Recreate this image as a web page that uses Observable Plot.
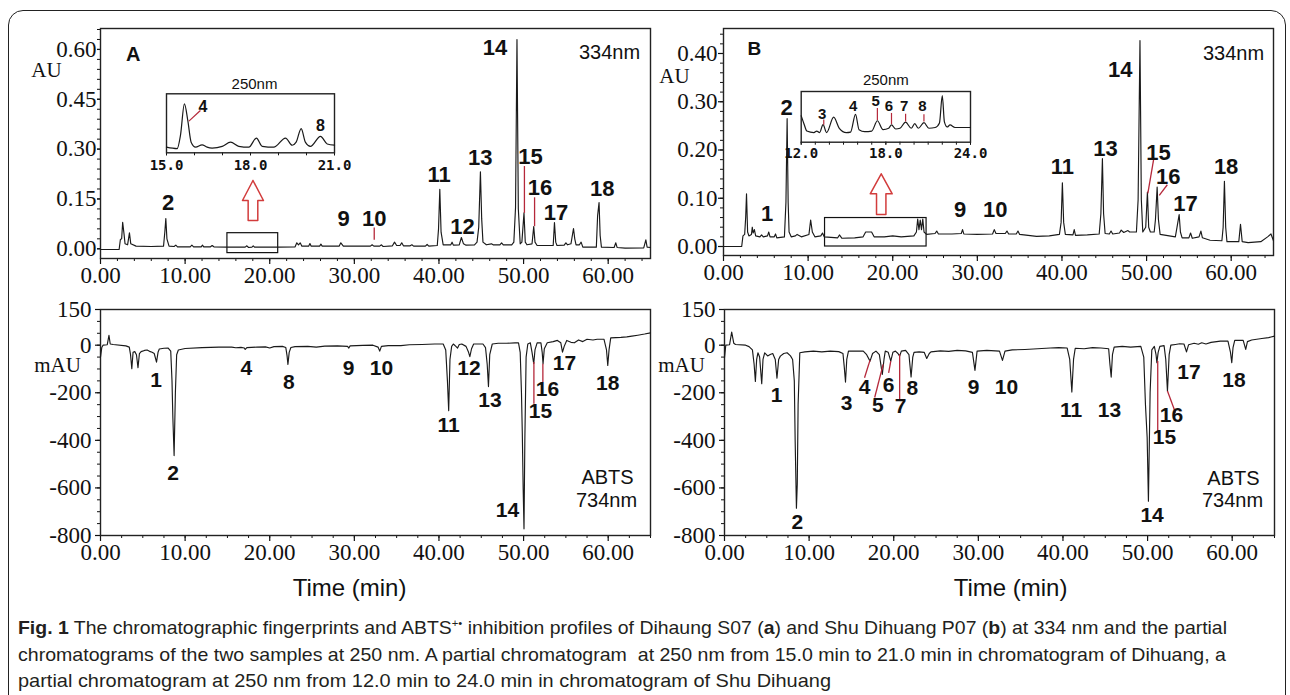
<!DOCTYPE html>
<html><head><meta charset="utf-8">
<script src="https://cdn.jsdelivr.net/npm/d3@7"></script>
<script src="https://cdn.jsdelivr.net/npm/@observablehq/plot@0.6"></script>
<style>
html,body{margin:0;padding:0;background:#fff;}
body{width:1290px;height:695px;overflow:hidden;position:relative;}
#box{position:absolute;left:8px;top:10px;width:1278px;height:740px;border:1.6px solid #222;border-radius:15px;box-sizing:border-box;}
.pl{position:absolute;}
.cap{position:absolute;left:18px;white-space:nowrap;font-family:"Liberation Sans Narrow","Liberation Sans",sans-serif;font-size:19px;line-height:22px;color:#231f20;transform-origin:0 50%;}
.cap sup{font-size:11px;line-height:0;vertical-align:7px;}
</style></head><body>
<div id="box"></div>
<div id="root"></div>
<div class="cap" id="c1" style="top:617px"><b>Fig. 1</b> The chromatographic fingerprints and ABTS<sup>+•</sup> inhibition profiles of Dihaung S07 (<b>a</b>) and Shu Dihuang P07 (<b>b</b>) at 334&nbsp;nm and the partial</div>
<div class="cap" id="c2" style="top:644px">chromatograms of the two samples at 250&nbsp;nm. A partial chromatogram &nbsp;at 250&nbsp;nm from 15.0&nbsp;min to 21.0&nbsp;min in chromatogram of Dihuang, a</div>
<div class="cap" id="c3" style="top:670px">partial chromatogram at 250&nbsp;nm from 12.0&nbsp;min to 24.0&nbsp;min in chromatogram of Shu Dihuang</div>
<script>
// ---------------- DATA ----------------
const xMajor = [0, 10, 20, 30, 40, 50, 60];
const aTopYTicks = [0, 0.15, 0.30, 0.45, 0.60];
const bTopYTicks = [0, 0.10, 0.20, 0.30, 0.40];
const botYTicks = [150, 0, -200, -400, -600, -800];

// Dihuang S07, 334 nm trace [time (min), AU]
const traceA334 = [
[0,-0.002],[2.2,-0.002],[2.35,0.028],[2.5,0.03],[2.62,0.08],[2.78,0.045],[2.9,0.015],[3.2,0.012],[3.42,0.048],[3.58,0.015],[4.2,0.008],[6,0.007],[7.45,0.008],[7.6,0.05],[7.72,0.091],[7.85,0.03],[8.1,0.008],[8.7,0.007],[8.9,0.011],[9.1,0.006],[10.6,0.006],[10.8,0.011],[11.0,0.006],[11.9,0.006],[12.05,0.011],[12.2,0.006],[13.0,0.006],[13.2,0.01],[13.4,0.006],[15,0.005],[17.1,0.005],[17.3,0.009],[17.5,0.004],[17.9,0.005],[18.05,0.009],[18.2,0.005],[21,0.005],[23.0,0.006],[23.2,0.018],[23.4,0.012],[23.6,0.018],[23.8,0.008],[24.6,0.008],[24.75,0.016],[24.9,0.008],[25.9,0.008],[26.05,0.014],[26.2,0.008],[28.2,0.008],[28.4,0.018],[28.7,0.008],[31.9,0.008],[32.1,0.012],[32.3,0.008],[33.0,0.008],[33.2,0.012],[33.4,0.007],[34.5,0.009],[34.75,0.02],[35.0,0.01],[35.4,0.01],[35.6,0.018],[35.8,0.009],[36.6,0.009],[36.8,0.012],[37.0,0.008],[38.4,0.008],[38.6,0.013],[38.8,0.008],[39.8,0.01],[39.95,0.06],[40.1,0.179],[40.25,0.05],[40.5,0.012],[41.4,0.012],[41.55,0.02],[41.7,0.011],[42.4,0.012],[42.65,0.034],[42.9,0.015],[43.2,0.011],[44.2,0.012],[44.5,0.02],[44.7,0.065],[44.9,0.232],[45.05,0.09],[45.2,0.02],[45.6,0.012],[46.2,0.015],[46.4,0.012],[47.2,0.012],[47.4,0.018],[47.6,0.012],[48.6,0.012],[48.85,0.02],[49.05,0.124],[49.22,0.63],[49.38,0.12],[49.6,0.015],[49.8,0.02],[50.05,0.108],[50.2,0.02],[50.4,0.012],[51.0,0.015],[51.2,0.067],[51.35,0.02],[51.6,0.01],[53.5,0.01],[53.65,0.079],[53.8,0.02],[53.95,0.01],[54.8,0.011],[55.0,0.018],[55.2,0.012],[55.6,0.015],[55.9,0.061],[56.05,0.03],[56.2,0.012],[56.6,0.012],[56.8,0.02],[57.0,0.005],[58.6,0.005],[58.75,0.1],[58.92,0.139],[59.05,0.04],[59.2,0.005],[60.7,0.004],[60.9,0.018],[61.05,0.004],[62,0.002],[64.2,0.003],[64.45,0.027],[64.6,0.005],[65,0.004]
];
// Shu Dihuang P07, 334 nm trace
const traceB334 = [
[0,0.0],[2.15,0.0],[2.3,0.022],[2.5,0.025],[2.62,0.06],[2.72,0.109],[2.85,0.03],[3.0,0.022],[3.3,0.025],[3.4,0.04],[3.5,0.028],[3.65,0.035],[3.8,0.022],[4.3,0.02],[4.5,0.024],[4.7,0.02],[5.2,0.022],[5.35,0.03],[5.5,0.02],[6.0,0.02],[6.15,0.026],[6.3,0.018],[7.2,0.02],[7.38,0.092],[7.52,0.265],[7.64,0.092],[7.75,0.03],[8.0,0.02],[8.5,0.022],[8.7,0.025],[9.2,0.02],[10.1,0.025],[10.3,0.055],[10.5,0.03],[10.8,0.02],[11.5,0.022],[11.7,0.028],[11.9,0.02],[13.5,0.018],[13.7,0.024],[14,0.017],[15.5,0.018],[16.5,0.02],[16.8,0.03],[17.5,0.03],[17.8,0.02],[19,0.02],[20,0.022],[21,0.02],[22.5,0.022],[22.8,0.03],[22.95,0.057],[23.1,0.035],[23.25,0.055],[23.4,0.035],[23.55,0.057],[23.7,0.03],[24.0,0.025],[25,0.027],[25.2,0.032],[25.4,0.026],[27,0.026],[28.1,0.027],[28.25,0.035],[28.4,0.026],[30,0.025],[31.8,0.026],[32.0,0.035],[32.2,0.027],[33.3,0.027],[33.5,0.032],[33.7,0.026],[34.6,0.026],[34.8,0.032],[35.0,0.025],[37,0.021],[38.5,0.022],[39.7,0.025],[39.9,0.05],[40.05,0.132],[40.2,0.05],[40.4,0.025],[41.3,0.024],[41.45,0.035],[41.6,0.023],[43,0.024],[44.4,0.026],[44.6,0.068],[44.78,0.182],[44.92,0.068],[45.1,0.027],[45.6,0.026],[45.8,0.032],[46,0.026],[46.8,0.028],[47.0,0.034],[47.3,0.029],[47.8,0.033],[48.0,0.03],[48.8,0.03],[49.0,0.097],[49.22,0.427],[49.38,0.097],[49.55,0.03],[49.9,0.04],[50.1,0.113],[50.25,0.04],[50.45,0.03],[50.9,0.03],[51.05,0.056],[51.25,0.123],[51.4,0.056],[51.6,0.025],[53.4,0.02],[53.6,0.04],[53.85,0.066],[54.0,0.03],[54.2,0.018],[55.0,0.018],[55.2,0.028],[55.4,0.017],[56.2,0.02],[56.42,0.032],[56.6,0.018],[57.5,0.013],[58.9,0.012],[59.05,0.04],[59.2,0.135],[59.35,0.04],[59.5,0.01],[60.9,0.01],[61.1,0.046],[61.3,0.01],[62,0.008],[63.5,0.01],[64.3,0.02],[64.7,0.026],[65,0.012]
];
// ABTS 734 nm, Dihuang S07 [time, mAU]
const traceA734 = [
[0,-50],[0.15,-10],[0.3,0],[0.8,2],[1.0,41],[1.15,5],[1.5,3],[3.0,-3],[3.4,-8],[3.55,-40],[3.7,-99],[3.85,-30],[4.05,-27],[4.25,-40],[4.43,-95],[4.6,-35],[4.8,-27],[5.2,-22],[5.5,-20],[5.8,-26],[6.1,-30],[6.35,-35],[6.62,-71],[6.8,-30],[6.95,-16],[7.5,-13],[8.0,-12],[8.3,-25],[8.45,-150],[8.55,-303],[8.7,-464],[8.85,-200],[9.0,-40],[9.2,-20],[10,-14],[12,-10],[14,-8],[15.5,-8],[16.0,-11],[16.6,-9],[17.0,-12],[17.1,-18],[17.3,-10],[18.5,-8],[19.5,-7],[20.0,-12],[20.5,-6],[21.5,-5],[21.9,-10],[22.05,-45],[22.15,-81],[22.3,-30],[22.5,-10],[23,-6],[24.5,-5],[25.5,-8],[26.5,-4],[28,-3],[29.2,-5],[29.35,-12],[29.5,-3],[31,-1],[32.2,0],[32.8,-8],[33.0,-25],[33.2,-5],[34,-2],[35.5,-2],[36.5,2],[38,3],[39.5,5],[40.5,5],[40.8,-20],[41.0,-150],[41.15,-275],[41.3,-60],[41.5,-5],[41.7,5],[42.0,-5],[42.2,-12],[42.4,3],[42.7,5],[43.2,-5],[43.5,-30],[43.65,-48],[43.85,-15],[44.1,5],[45.2,5],[45.5,-10],[45.7,-80],[45.85,-174],[46.0,-40],[46.3,5],[47,8],[48,8],[49,10],[49.4,10],[49.6,-30],[49.75,-200],[49.85,-371],[49.95,-600],[50.05,-772],[50.15,-400],[50.3,-50],[50.5,5],[50.8,10],[51.0,-30],[51.2,-78],[51.35,-20],[51.6,10],[52.05,10],[52.2,-30],[52.3,-78],[52.45,-15],[52.8,10],[53.5,15],[54.0,20],[54.4,10],[54.6,-29],[54.8,-5],[55.1,20],[55.6,12],[56.0,10],[56.5,22],[57.0,15],[57.5,25],[58.2,22],[58.7,25],[59.5,25],[59.8,-20],[59.95,-85],[60.1,-20],[60.3,31],[61.5,33],[62.2,35],[62.8,38],[63.5,42],[64.3,47],[65,52]
];
// ABTS 734 nm, Shu Dihuang P07
const traceB734 = [
[0,-53],[0.15,0],[0.6,2],[0.85,55],[1.1,8],[1.3,3],[2.5,0],[2.9,-6],[3.3,-20],[3.5,-80],[3.65,-152],[3.8,-60],[3.95,-32],[4.15,-50],[4.4,-162],[4.55,-60],[4.75,-32],[5.1,-45],[5.4,-39],[5.7,-35],[6.0,-60],[6.2,-139],[6.4,-60],[6.6,-46],[7.0,-35],[7.4,-32],[7.8,-45],[8.05,-60],[8.25,-150],[8.35,-401],[8.5,-685],[8.6,-584],[8.7,-250],[8.9,-32],[9.5,-28],[10.5,-25],[11.5,-28],[12.5,-25],[13.5,-27],[14.0,-35],[14.15,-90],[14.3,-155],[14.45,-60],[14.65,-25],[15.5,-25],[16.4,-25],[16.8,-40],[17.2,-67],[17.5,-35],[17.9,-25],[18.3,-40],[18.65,-123],[18.85,-60],[19.0,-25],[19.35,-30],[19.65,-67],[19.9,-30],[20.2,-25],[20.5,-35],[20.7,-46],[20.9,-25],[21.4,-22],[21.8,-40],[22.05,-134],[22.25,-50],[22.4,-30],[23.0,-28],[23.6,-30],[23.9,-56],[24.2,-35],[24.4,-28],[25.5,-24],[26.5,-26],[27.5,-22],[28.5,-24],[29.3,-30],[29.6,-106],[29.85,-25],[31,-22],[32.5,-25],[32.85,-64],[33.15,-25],[34,-20],[35.5,-18],[37,-15],[38.5,-12],[39.5,-10],[40.5,-12],[40.8,-60],[41.05,-197],[41.25,-60],[41.45,-13],[42.5,-15],[43.5,-10],[44.5,-12],[45.4,-15],[45.55,-80],[45.7,-134],[45.85,-40],[46.05,-8],[47,-5],[48,-8],[49.2,-5],[49.55,-50],[49.75,-250],[49.95,-388],[50.1,-656],[50.3,-200],[50.5,-20],[50.8,-5],[51.0,-40],[51.1,-74],[51.25,-30],[51.45,-5],[51.95,-2],[52.15,-60],[52.35,-193],[52.55,-40],[52.75,0],[53.3,3],[53.8,6],[54.3,5],[54.6,-28],[54.85,2],[55.5,8],[56.0,4],[56.4,10],[56.9,5],[57.5,12],[58.6,17],[59.5,17],[59.8,-30],[59.95,-74],[60.1,-10],[60.3,20],[61.3,20],[61.6,-18],[61.8,15],[62.3,22],[63.5,28],[64.3,32],[65,38]
];
// 250 nm partial chromatograms [time, relative response]
const insetA250 = [[15.0,9.5],[15.38,7],[15.5,30],[15.64,83],[15.76,55],[15.88,18],[16.04,9.5],[16.27,13.5],[16.45,9.5],[16.63,8],[16.99,11],[17.29,18],[17.58,11],[17.94,9.5],[18.21,25],[18.42,11],[18.83,9.5],[19.25,25],[19.49,12.8],[19.63,18],[19.81,41],[19.96,18],[20.14,11],[20.5,28],[20.74,15],[21.0,13]];
const insetB250 = [[12.0,52],[12.2,36],[12.4,22],[12.9,19],[13.1,22],[13.3,19],[13.55,34.6],[13.8,19],[14.3,49.4],[14.7,27.5],[15.2,19],[15.5,20],[15.85,55],[16.1,24.7],[16.5,20.8],[17.0,22],[17.4,42.3],[17.8,24.7],[18.2,27.5],[18.4,34],[18.7,26],[19.0,27.5],[19.4,39.5],[19.8,27.5],[20.05,36.8],[20.3,27.5],[20.7,38.5],[21.05,27.5],[21.5,29],[21.8,38],[22.0,91.8],[22.15,40],[22.35,30],[22.55,34],[22.9,29],[24.0,29]];

// peak labels [text, time, value]
const labelsA334 = [["2",7.98,0.139],["9",28.72,0.091],["10",32.35,0.091],["11",40.02,0.221],["12",42.78,0.065],["13",44.89,0.272],["14",46.62,0.603],["15",50.82,0.275],["16",51.95,0.184],["17",53.84,0.109],["18",59.3,0.181]];
const labelsB334 = [["1",5.15,0.068],["2",7.45,0.288],["9",27.95,0.075],["10",32.12,0.075],["11",40.05,0.164],["13",45.15,0.203],["14",46.9,0.365],["15",51.4,0.193],["16",52.55,0.145],["17",54.6,0.089],["18",59.4,0.164]];
const labelsA734 = [["1",6.58,-148],["2",8.58,-538],["4",17.25,-95],["8",22.25,-156],["9",29.31,-95],["10",33.2,-99],["11",41.13,-338],["12",43.54,-99],["13",46.03,-230],["14",48.1,-695],["15",52.0,-279],["16",52.83,-187],["17",54.84,-78],["18",59.95,-162]];
const labelsB734 = [["1",6.15,-211],["2",8.6,-744],["3",14.44,-244],["4",16.55,-177],["5",18.12,-253],["6",19.39,-169],["7",20.82,-258],["8",22.19,-179],["9",29.45,-177],["10",33.33,-177],["11",40.97,-274],["13",45.49,-274],["14",50.53,-716],["15",52.0,-387],["16",52.83,-296],["17",54.9,-113],["18",60.2,-148]];
const labelsInsetA = [["4",16.3,77],["8",20.5,45]];
const labelsInsetB = [["3",13.49,56],["4",15.69,71.5],["5",17.28,80.7],["6",18.22,71.5],["7",19.29,71.5],["8",20.6,71.5]];

// red leader lines [t1, v1, t2, v2]
const leadersA334 = [[32.35,0.027,32.35,0.064],[50.1,0.108,50.1,0.249],[51.3,0.068,51.3,0.155]];
const leadersB334 = [[50.85,0.182,50.15,0.11],[52.45,0.128,51.5,0.106]];
const leadersA734 = [[51.22,-71,51.22,-246],[52.28,-78,52.28,-155]];
const leadersB734 = [[17.2,-63,16.55,-137],[18.75,-81,17.75,-220],[19.65,-67,19.4,-116],[20.7,-38,20.7,-235],[51.2,-67,51.2,-361],[52.35,-193,53.3,-284]];
const leadersInsetA = [[15.8,53.6,16.21,71.7]];
const leadersInsetB = [[13.6,34.6,13.6,45],[17.4,44,17.4,67.5],[18.4,35.7,18.4,57.7],[19.4,41,19.4,56],[20.7,41,20.7,55]];

// zoom windows [t1, t2, v1, v2] and arrows
const windowA = [15, 21, -0.013, 0.047];
const windowB = [12, 24, 0.0, 0.059];
const arrowA = {t: 18.02, tip: 0.2055, neck: 0.1453, tail: 0.0852, head: 1.24, shaft: 0.57};
const arrowB = {t: 18.64, tip: 0.1507, neck: 0.1092, tail: 0.0663, head: 1.3, shaft: 0.555};

// ---------------- DRAWING ----------------
const INK = "#1a1a1a", RED = "#d23c3c", LEAD = "#b5283a";
const f2 = d3.format(".2f"), f1 = d3.format(".1f");
const rangeStep = (a, b, s) => d3.range(Math.round(a / s), Math.round(b / s) + 1).map(i => +(i * s).toFixed(6));

function arrowPoly(a) {
  return [[a.t, a.tip], [a.t + a.head, a.neck], [a.t + a.shaft, a.neck], [a.t + a.shaft, a.tail],
          [a.t - a.shaft, a.tail], [a.t - a.shaft, a.neck], [a.t - a.head, a.neck], [a.t, a.tip]];
}

function place(svg, left, top) {
  const d = document.createElement("div");
  d.className = "pl"; d.style.left = left + "px"; d.style.top = top + "px";
  d.appendChild(svg); document.getElementById("root").appendChild(d);
}

const labelFont = {fontFamily: "Liberation Sans, Arial, sans-serif", fontWeight: "bold"};

function panel(o) {
  const marks = [
    Plot.axisX({ticks: o.xMinor, tickSize: 3, tickFormat: () => "", label: null, strokeWidth: 1}),
    Plot.axisX({ticks: xMajor, tickSize: 6, tickPadding: 2, tickFormat: f2, label: null, strokeWidth: 1.2}),
    Plot.axisY({ticks: o.yMinor, tickSize: 3, tickFormat: () => "", label: null, strokeWidth: 1}),
    Plot.axisY({ticks: o.yTicks, tickSize: o.yTickSize, tickPadding: o.yPad, tickFormat: o.yFormat, label: null, strokeWidth: 1.2}),
    Plot.frame({stroke: "#222", strokeWidth: 1.4}),
    ...(o.extra || []),
    Plot.line(o.trace, {x: d => d[0], y: d => d[1], stroke: INK, strokeWidth: 1.15}),
    Plot.link(o.leaders, {x1: d => d[0], y1: d => d[1], x2: d => d[2], y2: d => d[3], stroke: LEAD, strokeWidth: 1.3}),
    Plot.text(o.labels, {x: d => d[1], y: d => d[2], text: d => d[0], fontSize: o.labelSize, ...labelFont, fill: "#111"}),
    Plot.text([o.unit], {frameAnchor: "top-left", textAnchor: "middle", lineAnchor: "middle", dx: o.unitDx, dy: o.unitDy, text: d => d, fontSize: 21, fontFamily: "Liberation Serif, serif", fill: "#111"}),
    ...(o.notes || [])
  ];
  return Plot.plot({
    width: o.width, height: o.height,
    marginLeft: o.ml, marginRight: o.mr, marginTop: o.mt, marginBottom: o.mb,
    x: {domain: [0, 65]},
    y: {domain: o.yDomain},
    style: {fontFamily: "Liberation Serif, 'Times New Roman', serif", fontSize: "23px", color: "#111", background: "none", overflow: "visible", maxWidth: "none"},
    marks
  });
}

function wavelength(text, t, v) {
  return Plot.text([text], {x: t, y: v, text: d => d, fontSize: 20, fontFamily: "Liberation Sans, Arial, sans-serif", fill: "#111"});
}

// Panel A, 334 nm
place(panel({
  width: 660, height: 300, ml: 100, mr: 10, mt: 28, mb: 42,
  yDomain: [-0.0292, 0.663], yTicks: aTopYTicks, yMinor: rangeStep(0, 0.66, 0.03), yFormat: f2, yTickSize: 3, yPad: 1,
  xMinor: rangeStep(0, 64, 2),
  trace: traceA334, labels: labelsA334, leaders: leadersA334, labelSize: 22,
  unit: "AU", unitDx: -54, unitDy: 42,
  extra: [
    Plot.rect([windowA], {x1: d => d[0], x2: d => d[1], y1: d => d[2], y2: d => d[3], fill: "none", stroke: "#111", strokeWidth: 1.2}),
    Plot.line(arrowPoly(arrowA), {x: d => d[0], y: d => d[1], stroke: RED, strokeWidth: 1.5})
  ],
  notes: [
    Plot.text(["A"], {x: 3.86, y: 0.583, text: d => d, fontSize: 20, ...labelFont, fill: "#111"}),
    wavelength("334nm", 60.15, 0.591)
  ]
}), 0, 0);

// Panel B, 334 nm
place(panel({
  width: 667, height: 300, ml: 100, mr: 17, mt: 28, mb: 45,
  yDomain: [-0.01865, 0.4518], yTicks: bTopYTicks, yMinor: rangeStep(0, 0.44, 0.02), yFormat: f2, yTickSize: 5, yPad: 1,
  xMinor: rangeStep(0, 64, 2),
  trace: traceB334, labels: labelsB334, leaders: leadersB334, labelSize: 22,
  unit: "AU", unitDx: -49, unitDy: 48,
  extra: [
    Plot.rect([windowB], {x1: d => d[0], x2: d => d[1], y1: d => d[2], y2: d => d[3], fill: "none", stroke: "#111", strokeWidth: 1.2}),
    Plot.line(arrowPoly(arrowB), {x: d => d[0], y: d => d[1], stroke: RED, strokeWidth: 1.5})
  ],
  notes: [
    Plot.text(["B"], {x: 3.66, y: 0.41, text: d => d, fontSize: 19, ...labelFont, fill: "#111"}),
    wavelength("334nm", 60.27, 0.40)
  ]
}), 623, 0);

// Panel A, ABTS 734 nm
const timeLabel = (dx) => Plot.text(["Time (min)"], {frameAnchor: "bottom", textAnchor: "middle", lineAnchor: "middle", dx, dy: 53, text: d => d, fontSize: 24, fontFamily: "Liberation Sans, Arial, sans-serif", fill: "#111"});
place(panel({
  width: 660, height: 320, ml: 100, mr: 10, mt: 19, mb: 75,
  yDomain: [-800, 150], yTicks: botYTicks, yMinor: rangeStep(-800, 150, 50), yFormat: d => String(d), yTickSize: 5, yPad: 4,
  xMinor: rangeStep(0, 65, 2.5),
  trace: traceA734, labels: labelsA734, leaders: leadersA734, labelSize: 21,
  unit: "mAU", unitDx: -43, unitDy: 56,
  notes: [wavelength("ABTS", 59.92, -555), wavelength("734nm", 59.8, -653), timeLabel(-26)]
}), 0, 290);

// Panel B, ABTS 734 nm
place(panel({
  width: 666, height: 320, ml: 100, mr: 16, mt: 19, mb: 75,
  yDomain: [-800, 150], yTicks: botYTicks, yMinor: rangeStep(-800, 150, 50), yFormat: d => String(d), yTickSize: 5, yPad: 4,
  xMinor: rangeStep(0, 65, 2.5),
  trace: traceB734, labels: labelsB734, leaders: leadersB734, labelSize: 21,
  unit: "mAU", unitDx: -43, unitDy: 56,
  notes: [wavelength("ABTS", 60.15, -562), wavelength("734nm", 60.04, -653), timeLabel(11)]
}), 624, 290);

// insets
function inset(o) {
  return Plot.plot({
    width: o.width, height: o.height, marginLeft: o.ml, marginRight: o.mr, marginTop: o.mt, marginBottom: o.mb,
    x: {domain: o.xDomain}, y: {domain: [0, 100], axis: null},
    style: {fontFamily: "DejaVu Sans Mono, monospace", fontSize: "14px", fontWeight: "bold", color: "#111", background: "none", overflow: "visible", maxWidth: "none"},
    marks: [
      Plot.axisX({ticks: rangeStep(o.xDomain[0], o.xDomain[1], 1), tickSize: 3, tickFormat: () => "", label: null}),
      Plot.axisX({ticks: o.xLabels, tickSize: 3, tickPadding: o.pad, tickFormat: f1, label: null}),
      Plot.frame({stroke: "#222", strokeWidth: 1.4}),
      Plot.line(o.trace, {x: d => d[0], y: d => d[1], stroke: INK, strokeWidth: 1.2, curve: "monotone-x"}),
      Plot.link(o.leaders, {x1: d => d[0], y1: d => d[1], x2: d => d[2], y2: d => d[3], stroke: LEAD, strokeWidth: 1.2}),
      Plot.text(o.labels, {x: d => d[1], y: d => d[2], text: d => d[0], fontSize: o.labelSize, ...labelFont, fill: "#111"}),
      Plot.text(["250nm"], {frameAnchor: "top", textAnchor: "middle", lineAnchor: "middle", dx: o.titleDx, dy: o.titleDy, text: d => d, fontSize: 15, fontWeight: "normal", fontFamily: "Liberation Sans, Arial, sans-serif", fill: "#111"})
    ]
  });
}
place(inset({width: 240, height: 110, ml: 36, mr: 36, mt: 23.3, mb: 27.7, xDomain: [15, 21], xLabels: [15, 18, 21], pad: 4,
  trace: insetA250, leaders: leadersInsetA, labels: labelsInsetA, labelSize: 16, titleDx: 4, titleDy: -10}), 130, 70);
place(inset({width: 230, height: 110, ml: 30.7, mr: 30, mt: 26, mb: 33.3, xDomain: [12, 24], xLabels: [12, 18, 24], pad: 3,
  trace: insetB250, leaders: leadersInsetB, labels: labelsInsetB, labelSize: 15, titleDx: 0, titleDy: -11}), 770, 65);

// caption line widths
[["c1", 1209], ["c2", 1208], ["c3", 813]].forEach(([id, w]) => {
  const el = document.getElementById(id);
  const s = w / el.getBoundingClientRect().width;
  el.style.transform = `scaleX(${s})`;
});
</script>
</body></html>
